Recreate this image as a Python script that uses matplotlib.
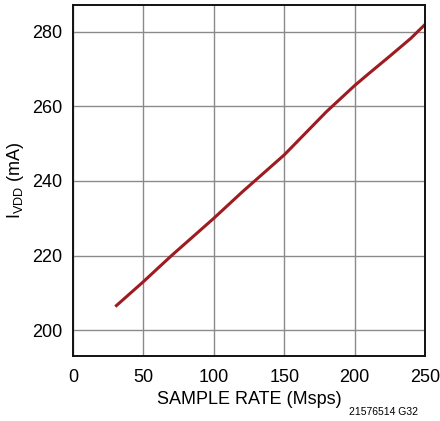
import matplotlib
matplotlib.use("Agg")
import matplotlib.pyplot as plt

# sample rate (Msps) vs IVDD (mA)
rate = [30, 50, 70, 100, 120, 150, 165, 180, 200, 210, 225, 240, 250]
ivdd = [206.3, 213.0, 220.0, 230.0, 237.0, 247.0, 252.8, 258.6, 265.6, 268.8, 273.5, 278.3, 282.0]

xticks = [0, 50, 100, 150, 200, 250]
yticks = [200, 220, 240, 260, 280]

plt.rcParams["font.family"] = ["Liberation Sans Narrow", "Liberation Sans", "DejaVu Sans"]

fig = plt.figure(figsize=(4.4, 4.21), dpi=100)
ax = fig.add_axes([0.166, 0.154, 0.800, 0.834])

ax.plot(rate, ivdd, color="#9e1b20", linewidth=2.2, solid_capstyle="butt")

ax.set_xlim(0, 250)
ax.set_ylim(193, 287.2)
ax.set_xticks(xticks)
ax.set_yticks(yticks)
ax.grid(True, color="#8a8a8a", linewidth=1.0)
ax.set_axisbelow(True)
ax.tick_params(axis="x", length=0, labelsize=13, pad=9)
ax.tick_params(axis="y", length=0, labelsize=13, pad=8)
for s in ax.spines.values():
    s.set_linewidth(1.4)
    s.set_color("#111111")

ax.set_xlabel("SAMPLE RATE (Msps)", fontsize=13, labelpad=4)
ax.set_ylabel(r"I$_{\mathregular{VDD}}$ (mA)", fontsize=13, labelpad=4)

fig.text(0.95, 0.01, "21576514 G32", fontsize=7.5, ha="right", va="bottom")

fig.savefig("out.png", dpi=100)
